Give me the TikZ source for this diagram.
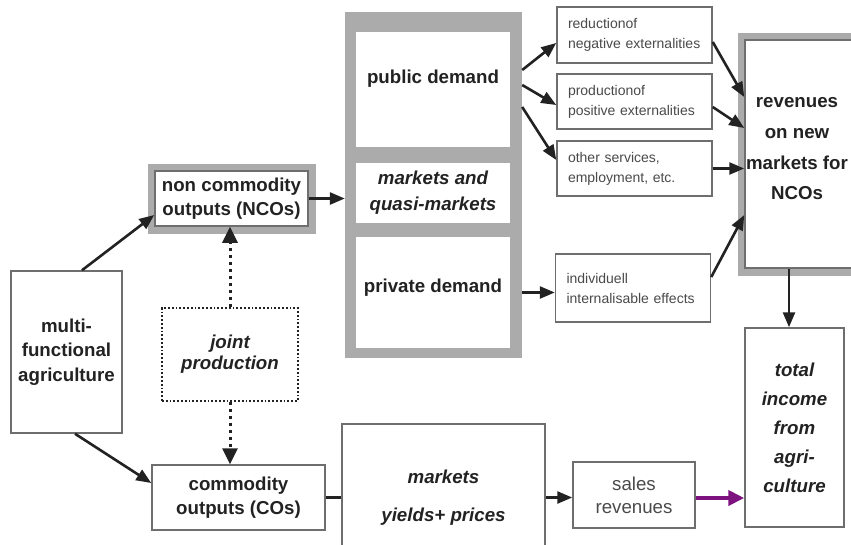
\documentclass[tikz,border=0pt]{standalone}
\usepackage{fontspec}
\setmainfont{Liberation Sans}
\usetikzlibrary{arrows.meta,positioning,calc}
\definecolor{frame}{HTML}{ABABAB}
\definecolor{edge}{HTML}{6E6E6E}
\definecolor{ink}{HTML}{222222}
\definecolor{softink}{HTML}{4A4A4A}
\definecolor{salesarr}{HTML}{7E1380}
\newcommand{\labelsize}{\fontsize{18.7}{24.5}\selectfont}
\newcommand{\salessize}{\fontsize{18.7}{23}\selectfont}
\newcommand{\revsize}{\fontsize{18.7}{30.7}\selectfont}
\newcommand{\totsize}{\fontsize{18.7}{29}\selectfont}
\newcommand{\notesize}{\fontsize{14}{20}\selectfont}
\tikzset{
  box/.style={draw=edge, line width=1.5pt, fill=white, align=center,
    inner sep=0pt, text=ink, font=\bfseries\labelsize},
  framebox/.style={box, preaction={draw=frame, line width=15pt}},
  pane/.style={fill=white, inner sep=0pt, align=center, minimum width=154pt,
    text=ink, font=\bfseries\labelsize},
  notebox/.style={box, font=\notesize, text=softink, align=left,
    text width=133pt, inner xsep=11pt},
  jointbox/.style={box, draw=ink, line width=1.8pt, dotted,
    font=\bfseries\itshape\fontsize{18.7}{21}\selectfont},
  arr/.style={-{Triangle[length=15pt,width=12pt]}, line width=2.6pt, draw=ink},
  dotarr/.style={-{Triangle[length=16pt,width=15pt]}, line width=3pt,
    dash pattern=on 3pt off 4pt, draw=ink},
  purplearr/.style={-{Triangle[length=16pt,width=15pt]}, line width=4pt, draw=salesarr}
}
\begin{document}
\begin{tikzpicture}[x=1pt, y=-1pt]
  \useasboundingbox (0,0) rectangle (851,544);
  \clip (0,0) rectangle (851,544);
  \fill[white] (0,0) rectangle (851,544);

  \node[box, minimum width=111pt, minimum height=162pt] (multi) at (66.5,352) {multi-\\functional\\agriculture};
  \node[framebox, minimum width=153pt, minimum height=55pt] (nco) at (231.5,198.5) {non commodity\\outputs (NCOs)};
  \node[jointbox, minimum width=136pt, minimum height=93pt] (joint) at (230,354.5) {joint\\production};
  \node[box, minimum width=173pt, minimum height=65pt] (co) at (238.5,497.5) {commodity\\outputs (COs)};

  \node[fill=frame, inner sep=0pt, minimum width=177pt, minimum height=346pt] (dem) at (433.5,185) {};
  \node[pane, minimum height=115pt, text depth=26pt] (pub) at (433,89.5) {public demand};
  \node[pane, minimum height=60pt, font=\bfseries\itshape\fontsize{18.7}{26}\selectfont] (mkt) at (433,193) {markets and\\quasi-markets};
  \node[pane, minimum height=111pt, text depth=14pt] (priv) at (433,292.5) {private demand};

  \node[notebox, minimum height=56pt] (red) at (634.5,35) {reductionof\\negative externalities};
  \node[notebox, minimum height=55pt] (pos) at (634.5,101.5) {productionof\\positive externalities};
  \node[notebox, minimum height=55pt] (oth) at (634.5,168.5) {other services,\\employment, etc.};
  \node[notebox, minimum height=68pt] (ind) at (633,288) {individuell\\internalisable effects};

  \node[framebox, minimum width=125pt, minimum height=228pt] (revbox) at (807.5,154) {};
  \node[inner sep=0pt, align=center, text=ink, font=\bfseries\revsize] (rev) at (797,149) {revenues\\on new\\markets for\\NCOs};
  \node[box, minimum width=99pt, minimum height=199pt, font=\bfseries\itshape\totsize] (tot) at (794.5,427.5) {total\\income\\from\\agri-\\culture};

  \node[box, minimum width=203pt, minimum height=147pt, font=\bfseries\itshape\labelsize] (cmk) at (443.5,497.5) {markets\\[14pt]yields+ prices};
  \node[box, minimum width=122pt, minimum height=66pt, font=\salessize, text=softink] (sales) at (634,495) {sales\\revenues};

  \draw[arr] ($(multi.north)+(15.5,0)$) -- ($(nco.west)+(0,16.5)$);
  \draw[arr] ($(multi.south)+(8.5,0)$) -- ($(co.west)+(0,-14.5)$);
  \draw[dotarr] (joint.north) -- (joint.north |- nco.south);
  \draw[dotarr] (joint.south) -- (joint.south |- co.north);
  \draw[arr] (nco.east) -- (nco.east -| dem.west);
  \draw[arr] ($(pub.east)+(12,-19.5)$) -- ($(red.west)+(0,8)$);
  \draw[arr] ($(pub.east)+(12,-4.5)$) -- ($(pos.west)+(0,3.5)$);
  \draw[arr] ($(pub.east)+(12,17.5)$) -- ($(oth.west)+(0,-8.5)$);
  \draw[arr] (priv.east -| dem.east) -- (priv.east -| ind.west);
  \draw[arr] ($(red.east)+(0,7)$) -- ($(revbox.west)+(0,-57)$);
  \draw[arr] ($(pos.east)+(0,5.5)$) -- ($(revbox.west)+(0,-26)$);
  \draw[arr] (oth.east) -- (oth.east -| revbox.west);
  \draw[arr] ($(ind.east)+(0,-11)$) -- ($(revbox.west)+(0,61)$);
  \draw[arr] ($(revbox.south)+(-18.5,0)$) -- ($(revbox.south |- tot.north)+(-18.5,0)$);
  \draw[line width=2.6pt, draw=ink] (co.east) -- (cmk.west);
  \draw[arr] (cmk.east) -- (cmk.east -| sales.west);
  \draw[purplearr] ($(sales.east)+(0,3)$) -- ($(sales.east -| tot.west)+(0,3)$);
\end{tikzpicture}
\end{document}
